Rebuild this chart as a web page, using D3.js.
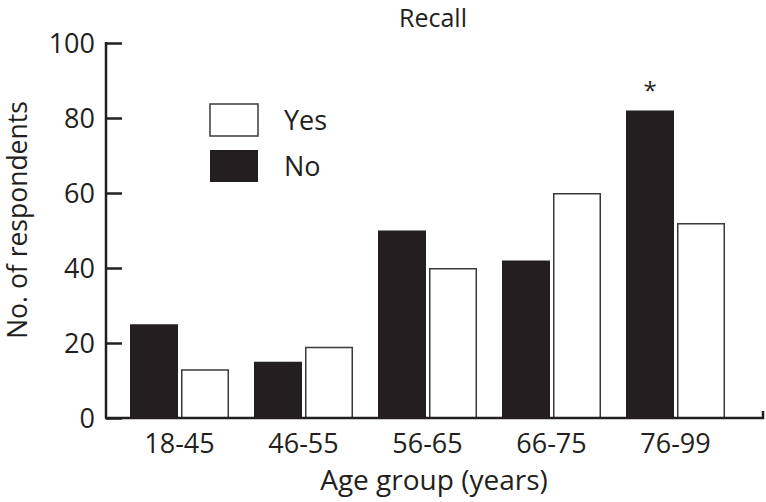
<!DOCTYPE html>
<html><head><meta charset="utf-8">
<script src="https://cdn.jsdelivr.net/npm/d3@7"></script>
<style>body{margin:0;background:#fff;} text{font-family:"Open Sans",sans-serif;fill:#231f20;}</style>
</head><body>
<svg id="c" width="766" height="502"></svg>
<script>
const categories = ["18-45","46-55","56-65","66-75","76-99"];
const seriesNames = ["No","Yes"];
const noValues = [25,15,50,42,82];
const yesValues = [13,19,40,60,52];
const yTicks = [0,20,40,60,80,100];
const title = "Recall";
const xTitle = "Age group (years)";
const yTitle = "No. of respondents";

const svg = d3.select("#c");
const ink = "#231f20";
const y = d3.scaleLinear().domain([0,100]).range([418,43]);
const x0 = d3.scaleBand().domain(categories).range([117.5,737.5]).paddingInner(25/124).paddingOuter(12.5/124);
const x1 = d3.scaleBand().domain(seriesNames).range([0,x0.bandwidth()]).paddingInner(3/51).paddingOuter(0);
const fills = {No: ink, Yes: "#fff"};

const data = categories.map((c,i)=>({cat:c, vals:[{s:"No",v:noValues[i]},{s:"Yes",v:yesValues[i]}]}));

const g = svg.append("g");
g.selectAll("g.grp").data(data).join("g").attr("class","grp")
 .attr("transform",d=>`translate(${x0(d.cat)},0)`)
 .selectAll("rect").data(d=>d.vals).join("rect")
 .attr("x",d=>x1(d.s)+(d.s==="Yes"?0.75:0))
 .attr("width",d=>x1.bandwidth()-(d.s==="Yes"?1.5:0))
 .attr("y",d=>y(d.v)+(d.s==="Yes"?0.75:0))
 .attr("height",d=>y(0)-y(d.v)-(d.s==="Yes"?0.75:0))
 .attr("fill",d=>fills[d.s])
 .attr("stroke",d=>d.s==="Yes"?"#3a3a3a":"none")
 .attr("stroke-width",1.5);

// y axis
const yAxis = svg.append("g").attr("transform","translate(106,0)")
 .call(d3.axisLeft(y).tickValues(yTicks).tickSize(-16).tickPadding(28));
yAxis.select(".domain").attr("stroke",ink).attr("stroke-width",2.5).attr("d","M0,42V418");
yAxis.selectAll(".tick line").attr("stroke",ink).attr("stroke-width",2.5);
yAxis.selectAll(".tick text").attr("font-size",27).attr("font-family","Open Sans").attr("fill",ink).attr("text-anchor","end").attr("x",-11).attr("dy","0.35em");

// x axis
const xAxis = svg.append("g").attr("transform","translate(0,418)")
 .call(d3.axisBottom(x0).tickSize(0).tickPadding(16));
xAxis.select(".domain").attr("stroke",ink).attr("stroke-width",2.5).attr("d","M105,0H763V-7");
xAxis.selectAll(".tick text").attr("font-size",27).attr("font-family","Open Sans").attr("fill",ink);

// titles
svg.append("text").attr("x",433).attr("y",27).attr("text-anchor","middle").attr("font-size",25).text(title);
svg.append("text").attr("x",434).attr("y",490).attr("text-anchor","middle").attr("font-size",28).text(xTitle);
svg.append("text").attr("transform","translate(27,220) rotate(-90)").attr("text-anchor","middle").attr("font-size",26.5).text(yTitle);

// asterisk
svg.append("text").attr("x",x0("76-99")+x1("No")+x1.bandwidth()/2).attr("y",y(noValues[4])-12).attr("text-anchor","middle").attr("font-size",24).text("*");

// legend
const leg = svg.append("g");
const legItems = [{s:"Yes",yy:104},{s:"No",yy:150}];
leg.selectAll("rect").data(legItems).join("rect")
 .attr("x",210).attr("y",d=>d.yy).attr("width",48).attr("height",32)
 .attr("fill",d=>fills[d.s]).attr("stroke",d=>d.s==="Yes"?"#3a3a3a":"none").attr("stroke-width",1.5);
leg.selectAll("text").data(legItems).join("text")
 .attr("x",284).attr("y",d=>d.yy+26).attr("font-size",27).text(d=>d.s);
</script>
</body></html>
